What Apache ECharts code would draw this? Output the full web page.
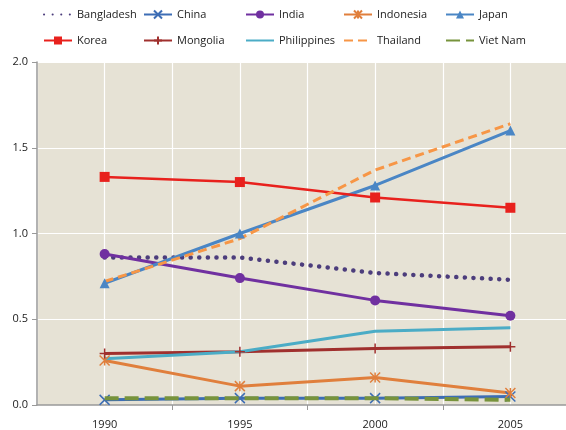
<!DOCTYPE html>
<html>
<head>
<meta charset="utf-8">
<script src="https://cdn.jsdelivr.net/npm/echarts@6/dist/echarts.min.js"></script>
<style>
  html, body { margin: 0; padding: 0; background: #fff; overflow: hidden; }
  /* plot area runs past the right edge of the picture, as in the source */
  #chart { width: 578px; height: 430px; }
</style>
</head>
<body>
<div id="chart"></div>
<script>
var years = [1990, 1995, 2000, 2005];
var yearTicks = [1992.5, 1997.5, 2002.5];
var yTicks = [0, 0.5, 1.0, 1.5, 2.0];

var bangladesh = [0.86, 0.86, 0.77, 0.73];
var china = [0.03, 0.04, 0.04, 0.05];
var india = [0.88, 0.74, 0.61, 0.52];
var indonesia = [0.26, 0.11, 0.16, 0.07];
var japan = [0.71, 1.00, 1.28, 1.60];
var korea = [1.33, 1.30, 1.21, 1.15];
var mongolia = [0.30, 0.31, 0.33, 0.34];
var philippines = [0.27, 0.31, 0.43, 0.45];
var thailand = [0.72, 0.97, 1.37, 1.64];
var vietnam = [0.04, 0.04, 0.04, 0.03];

var FONT = 'Open Sans';
var crossPath = 'path://M0,0L10,10M10,0L0,10';
var starPath = 'path://M0,0L10,10M10,0L0,10M5,0L5,10';
var plusPath = 'path://M5,0L5,10M0,5L10,5';

function pts(arr) {
    return arr.map(function (v, i) { return [years[i], v]; });
}

function line(name, arr, color, opts) {
    opts = opts || {};
    return {
        name: name,
        type: 'line',
        xAxisIndex: 0,
        data: pts(arr),
        symbol: opts.symbol || 'none',
        symbolSize: opts.size || 9,
        showSymbol: !!opts.symbol,
        lineStyle: {
            color: color,
            width: opts.width || 3,
            type: opts.dash || 'solid',
            cap: opts.cap || 'butt'
        },
        itemStyle: {
            color: color,
            borderColor: color,
            borderWidth: opts.stroke ? 1.5 : 0
        },
        z: opts.z || 2
    };
}

var series = [
    line('Bangladesh', bangladesh, '#4c3d7c', { dash: [0.1, 8.5], width: 4.5, cap: 'round' }),
    line('China', china, '#3d6db5', { symbol: crossPath, size: 10, stroke: true }),
    line('India', india, '#7030a0', { symbol: 'circle', size: 10 }),
    line('Indonesia', indonesia, '#e07f3c', { symbol: starPath, size: 10, stroke: true }),
    line('Japan', japan, '#4a86c5', { symbol: 'triangle', size: 10 }),
    line('Korea', korea, '#e8211d', { symbol: 'rect', size: 10, width: 2.5 }),
    line('Mongolia', mongolia, '#a0302e', { symbol: plusPath, size: 10, stroke: true }),
    line('Philippines', philippines, '#4bacc6', {}),
    line('Thailand', thailand, '#f79646', { dash: [9, 5] }),
    line('Viet Nam', vietnam, '#77933c', { dash: [14, 6], width: 4, z: 3 })
];

var noMarker = ['Bangladesh', 'Philippines', 'Thailand', 'Viet Nam'];
var legendCols = [43, 143, 245, 343, 445];
var legendRows = [9, 35];

var legends = series.map(function (s, i) {
    var item = { name: s.name };
    if (noMarker.indexOf(s.name) >= 0) {
        item.itemStyle = { opacity: 0 };
    }
    return {
        data: [item],
        left: legendCols[i % 5],
        top: legendRows[Math.floor(i / 5)],
        padding: 0,
        itemWidth: 28,
        itemHeight: 10,
        textStyle: { fontFamily: FONT, fontSize: 11, color: '#222' }
    };
});

var option = {
    animation: false,
    backgroundColor: '#ffffff',
    legend: legends,
    grid: {
        left: 37,
        top: 62,
        right: 0,
        bottom: 25,
        show: true,
        backgroundColor: '#e6e2d5',
        borderWidth: 0
    },
    xAxis: [{
        type: 'value',
        min: 1987.5,
        max: 2007.5,
        interval: 2.5,
        axisLine: { show: true, lineStyle: { color: '#999', width: 1.5 } },
        axisTick: { show: true, length: 5, lineStyle: { color: '#999' }, customValues: yearTicks },
        axisLabel: {
            customValues: years,
            formatter: function (v) { return String(v); },
            margin: 14,
            fontFamily: FONT, fontSize: 11, color: '#222'
        },
        splitLine: { show: false }
    }, {
        type: 'value',
        position: 'bottom',
        min: 1987.5,
        max: 2007.5,
        interval: 2.5,
        axisLine: { show: false },
        axisTick: { show: false },
        axisLabel: { show: false },
        splitLine: { show: true, lineStyle: { color: '#ffffff', width: 1.2 } }
    }],
    yAxis: {
        type: 'value',
        min: yTicks[0],
        max: yTicks[yTicks.length - 1],
        interval: 0.5,
        axisLine: { show: true, lineStyle: { color: '#999', width: 1.5 } },
        axisTick: { show: true, length: 5, lineStyle: { color: '#999' } },
        axisLabel: {
            formatter: function (v) { return v.toFixed(1); },
            margin: 9,
            fontFamily: FONT, fontSize: 11, color: '#222'
        },
        splitLine: { show: true, lineStyle: { color: '#ffffff', width: 1.2 } }
    },
    series: series
};

echarts.init(document.getElementById('chart')).setOption(option);
</script>
</body>
</html>
